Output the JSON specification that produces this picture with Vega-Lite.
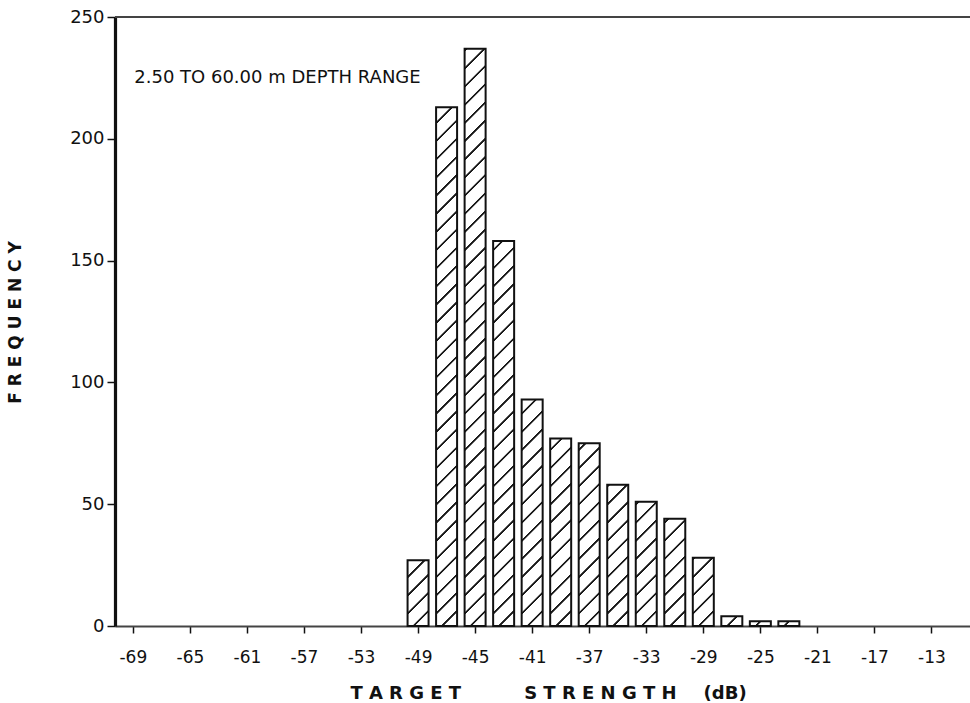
{
  "$schema": "https://vega.github.io/schema/vega-lite/v6.json",
  "width": 855,
  "height": 609,
  "autosize": {"type": "none"},
  "padding": {"left": 115, "top": 17, "right": 0, "bottom": 77},
  "background": "white",
  "config": {
    "view": {"stroke": null},
    "font": "DejaVu Sans",
    "axis": {
      "grid": false,
      "labelFont": "DejaVu Sans",
      "titleFont": "DejaVu Sans",
      "labelColor": "#111111",
      "titleColor": "#111111",
      "tickColor": "#111111",
      "zindex": 1
    },
    "axisX": {
      "domainColor": "#444444",
      "domainWidth": 2,
      "tickWidth": 1.5,
      "tickSize": 7,
      "labelFontSize": 17,
      "labelPadding": 16,
      "labelOverlap": false,
      "labelFlush": false,
      "labelBound": false,
      "titleFontSize": 18,
      "titleFontWeight": "bold",
      "titleX": 433,
      "titleY": 72,
      "titleAlign": "center",
      "titleBaseline": "alphabetic"
    },
    "axisY": {
      "domainColor": "#111111",
      "domainWidth": 3.2,
      "tickWidth": 1.5,
      "tickSize": 8,
      "labelFontSize": 18,
      "labelPadding": 3,
      "titleFontSize": 17,
      "titleFontWeight": "bold",
      "titleAngle": 270,
      "titleX": -100,
      "titleY": 305,
      "titleAlign": "center",
      "titleBaseline": "middle"
    }
  },
  "datasets": {
    "counts": [
      {"ts": -49, "count": 27},
      {"ts": -47, "count": 213},
      {"ts": -45, "count": 237},
      {"ts": -43, "count": 158},
      {"ts": -41, "count": 93},
      {"ts": -39, "count": 77},
      {"ts": -37, "count": 75},
      {"ts": -35, "count": 58},
      {"ts": -33, "count": 51},
      {"ts": -31, "count": 44},
      {"ts": -29, "count": 28},
      {"ts": -27, "count": 4},
      {"ts": -25, "count": 2},
      {"ts": -23, "count": 2}
    ],
    "note": [
      {"label": "2.50 TO 60.00 m DEPTH RANGE"}
    ]
  },
  "data": {"name": "counts"},
  "layer": [
    {
      "description": "Diagonal hatching: every column gets the same full-height striped rect (same box, so one gradient fits all)",
      "mark": {
        "type": "bar",
        "width": 21,
        "stroke": null,
        "fill": {
          "gradient": "linear",
          "x1": 0, "y1": 0, "x2": 0.03716, "y2": 1.03459,
          "stops": [
            {"offset": 0.0123, "color": "#ffffff"}, {"offset": 0.0135, "color": "#1a1a1a"}, {"offset": 0.0165, "color": "#1a1a1a"}, {"offset": 0.0177, "color": "#ffffff"},
            {"offset": 0.0423, "color": "#ffffff"}, {"offset": 0.0435, "color": "#1a1a1a"}, {"offset": 0.0465, "color": "#1a1a1a"}, {"offset": 0.0477, "color": "#ffffff"},
            {"offset": 0.0723, "color": "#ffffff"}, {"offset": 0.0735, "color": "#1a1a1a"}, {"offset": 0.0765, "color": "#1a1a1a"}, {"offset": 0.0777, "color": "#ffffff"},
            {"offset": 0.1023, "color": "#ffffff"}, {"offset": 0.1035, "color": "#1a1a1a"}, {"offset": 0.1065, "color": "#1a1a1a"}, {"offset": 0.1077, "color": "#ffffff"},
            {"offset": 0.1323, "color": "#ffffff"}, {"offset": 0.1335, "color": "#1a1a1a"}, {"offset": 0.1365, "color": "#1a1a1a"}, {"offset": 0.1377, "color": "#ffffff"},
            {"offset": 0.1623, "color": "#ffffff"}, {"offset": 0.1635, "color": "#1a1a1a"}, {"offset": 0.1665, "color": "#1a1a1a"}, {"offset": 0.1677, "color": "#ffffff"},
            {"offset": 0.1923, "color": "#ffffff"}, {"offset": 0.1935, "color": "#1a1a1a"}, {"offset": 0.1965, "color": "#1a1a1a"}, {"offset": 0.1977, "color": "#ffffff"},
            {"offset": 0.2223, "color": "#ffffff"}, {"offset": 0.2235, "color": "#1a1a1a"}, {"offset": 0.2265, "color": "#1a1a1a"}, {"offset": 0.2277, "color": "#ffffff"},
            {"offset": 0.2523, "color": "#ffffff"}, {"offset": 0.2535, "color": "#1a1a1a"}, {"offset": 0.2565, "color": "#1a1a1a"}, {"offset": 0.2577, "color": "#ffffff"},
            {"offset": 0.2823, "color": "#ffffff"}, {"offset": 0.2835, "color": "#1a1a1a"}, {"offset": 0.2865, "color": "#1a1a1a"}, {"offset": 0.2877, "color": "#ffffff"},
            {"offset": 0.3123, "color": "#ffffff"}, {"offset": 0.3135, "color": "#1a1a1a"}, {"offset": 0.3165, "color": "#1a1a1a"}, {"offset": 0.3177, "color": "#ffffff"},
            {"offset": 0.3423, "color": "#ffffff"}, {"offset": 0.3435, "color": "#1a1a1a"}, {"offset": 0.3465, "color": "#1a1a1a"}, {"offset": 0.3477, "color": "#ffffff"},
            {"offset": 0.3723, "color": "#ffffff"}, {"offset": 0.3735, "color": "#1a1a1a"}, {"offset": 0.3765, "color": "#1a1a1a"}, {"offset": 0.3777, "color": "#ffffff"},
            {"offset": 0.4023, "color": "#ffffff"}, {"offset": 0.4035, "color": "#1a1a1a"}, {"offset": 0.4065, "color": "#1a1a1a"}, {"offset": 0.4077, "color": "#ffffff"},
            {"offset": 0.4323, "color": "#ffffff"}, {"offset": 0.4335, "color": "#1a1a1a"}, {"offset": 0.4365, "color": "#1a1a1a"}, {"offset": 0.4377, "color": "#ffffff"},
            {"offset": 0.4623, "color": "#ffffff"}, {"offset": 0.4635, "color": "#1a1a1a"}, {"offset": 0.4665, "color": "#1a1a1a"}, {"offset": 0.4677, "color": "#ffffff"},
            {"offset": 0.4923, "color": "#ffffff"}, {"offset": 0.4935, "color": "#1a1a1a"}, {"offset": 0.4965, "color": "#1a1a1a"}, {"offset": 0.4977, "color": "#ffffff"},
            {"offset": 0.5223, "color": "#ffffff"}, {"offset": 0.5235, "color": "#1a1a1a"}, {"offset": 0.5265, "color": "#1a1a1a"}, {"offset": 0.5277, "color": "#ffffff"},
            {"offset": 0.5523, "color": "#ffffff"}, {"offset": 0.5535, "color": "#1a1a1a"}, {"offset": 0.5565, "color": "#1a1a1a"}, {"offset": 0.5577, "color": "#ffffff"},
            {"offset": 0.5823, "color": "#ffffff"}, {"offset": 0.5835, "color": "#1a1a1a"}, {"offset": 0.5865, "color": "#1a1a1a"}, {"offset": 0.5877, "color": "#ffffff"},
            {"offset": 0.6123, "color": "#ffffff"}, {"offset": 0.6135, "color": "#1a1a1a"}, {"offset": 0.6165, "color": "#1a1a1a"}, {"offset": 0.6177, "color": "#ffffff"},
            {"offset": 0.6423, "color": "#ffffff"}, {"offset": 0.6435, "color": "#1a1a1a"}, {"offset": 0.6465, "color": "#1a1a1a"}, {"offset": 0.6477, "color": "#ffffff"},
            {"offset": 0.6723, "color": "#ffffff"}, {"offset": 0.6735, "color": "#1a1a1a"}, {"offset": 0.6765, "color": "#1a1a1a"}, {"offset": 0.6777, "color": "#ffffff"},
            {"offset": 0.7023, "color": "#ffffff"}, {"offset": 0.7035, "color": "#1a1a1a"}, {"offset": 0.7065, "color": "#1a1a1a"}, {"offset": 0.7077, "color": "#ffffff"},
            {"offset": 0.7323, "color": "#ffffff"}, {"offset": 0.7335, "color": "#1a1a1a"}, {"offset": 0.7365, "color": "#1a1a1a"}, {"offset": 0.7377, "color": "#ffffff"},
            {"offset": 0.7623, "color": "#ffffff"}, {"offset": 0.7635, "color": "#1a1a1a"}, {"offset": 0.7665, "color": "#1a1a1a"}, {"offset": 0.7677, "color": "#ffffff"},
            {"offset": 0.7923, "color": "#ffffff"}, {"offset": 0.7935, "color": "#1a1a1a"}, {"offset": 0.7965, "color": "#1a1a1a"}, {"offset": 0.7977, "color": "#ffffff"},
            {"offset": 0.8223, "color": "#ffffff"}, {"offset": 0.8235, "color": "#1a1a1a"}, {"offset": 0.8265, "color": "#1a1a1a"}, {"offset": 0.8277, "color": "#ffffff"},
            {"offset": 0.8523, "color": "#ffffff"}, {"offset": 0.8535, "color": "#1a1a1a"}, {"offset": 0.8565, "color": "#1a1a1a"}, {"offset": 0.8577, "color": "#ffffff"},
            {"offset": 0.8823, "color": "#ffffff"}, {"offset": 0.8835, "color": "#1a1a1a"}, {"offset": 0.8865, "color": "#1a1a1a"}, {"offset": 0.8877, "color": "#ffffff"},
            {"offset": 0.9123, "color": "#ffffff"}, {"offset": 0.9135, "color": "#1a1a1a"}, {"offset": 0.9165, "color": "#1a1a1a"}, {"offset": 0.9177, "color": "#ffffff"},
            {"offset": 0.9423, "color": "#ffffff"}, {"offset": 0.9435, "color": "#1a1a1a"}, {"offset": 0.9465, "color": "#1a1a1a"}, {"offset": 0.9477, "color": "#ffffff"},
            {"offset": 0.9723, "color": "#ffffff"}, {"offset": 0.9735, "color": "#1a1a1a"}, {"offset": 0.9765, "color": "#1a1a1a"}, {"offset": 0.9777, "color": "#ffffff"}
          ]
        }
      },
      "encoding": {
        "x": {
          "field": "ts",
          "type": "quantitative",
          "scale": {"domain": [-69.9, -10.65], "nice": false, "zero": false},
          "axis": {
            "values": [-69, -67, -65, -63, -61, -59, -57, -55, -53, -51, -49, -47, -45, -43, -41, -39, -37, -35, -33, -31, -29, -27, -25, -23, -21, -19, -17, -15, -13, -11],
            "labelExpr": "(datum.value + 69) % 4 === 0 ? '-' + abs(datum.value) : ''",
            "title": "T A R G E T\u2003\u2003\u2003\u2002S T R E N G T H\u2003\u2002(dB)"
          }
        },
        "y": {
          "datum": 240,
          "type": "quantitative",
          "scale": {"domain": [0, 250], "nice": false, "zero": true},
          "axis": {
            "values": [0, 50, 100, 150, 200, 250],
            "title": "F R E Q U E N C Y"
          }
        },
        "y2": {"datum": 0}
      }
    },
    {
      "description": "White cover above each column, trimming the hatching to the column height",
      "mark": {"type": "bar", "width": 23, "fill": "#ffffff", "stroke": null},
      "encoding": {
        "x": {"field": "ts", "type": "quantitative"},
        "y": {"field": "count", "type": "quantitative"},
        "y2": {"datum": 242}
      }
    },
    {
      "description": "Column outlines",
      "mark": {"type": "bar", "width": 21, "filled": false, "stroke": "#111111", "strokeWidth": 2},
      "encoding": {
        "x": {"field": "ts", "type": "quantitative"},
        "y": {"field": "count", "type": "quantitative"}
      }
    },
    {
      "description": "Upper frame line",
      "mark": {"type": "rule", "stroke": "#444444", "strokeWidth": 2},
      "encoding": {"y": {"datum": 250, "type": "quantitative"}}
    },
    {
      "data": {"name": "note"},
      "mark": {"type": "text", "align": "left", "baseline": "alphabetic", "fontSize": 18, "font": "DejaVu Sans", "color": "#111111"},
      "encoding": {
        "x": {"datum": -68.9, "type": "quantitative"},
        "y": {"datum": 222.8, "type": "quantitative"},
        "text": {"field": "label"}
      }
    }
  ]
}
